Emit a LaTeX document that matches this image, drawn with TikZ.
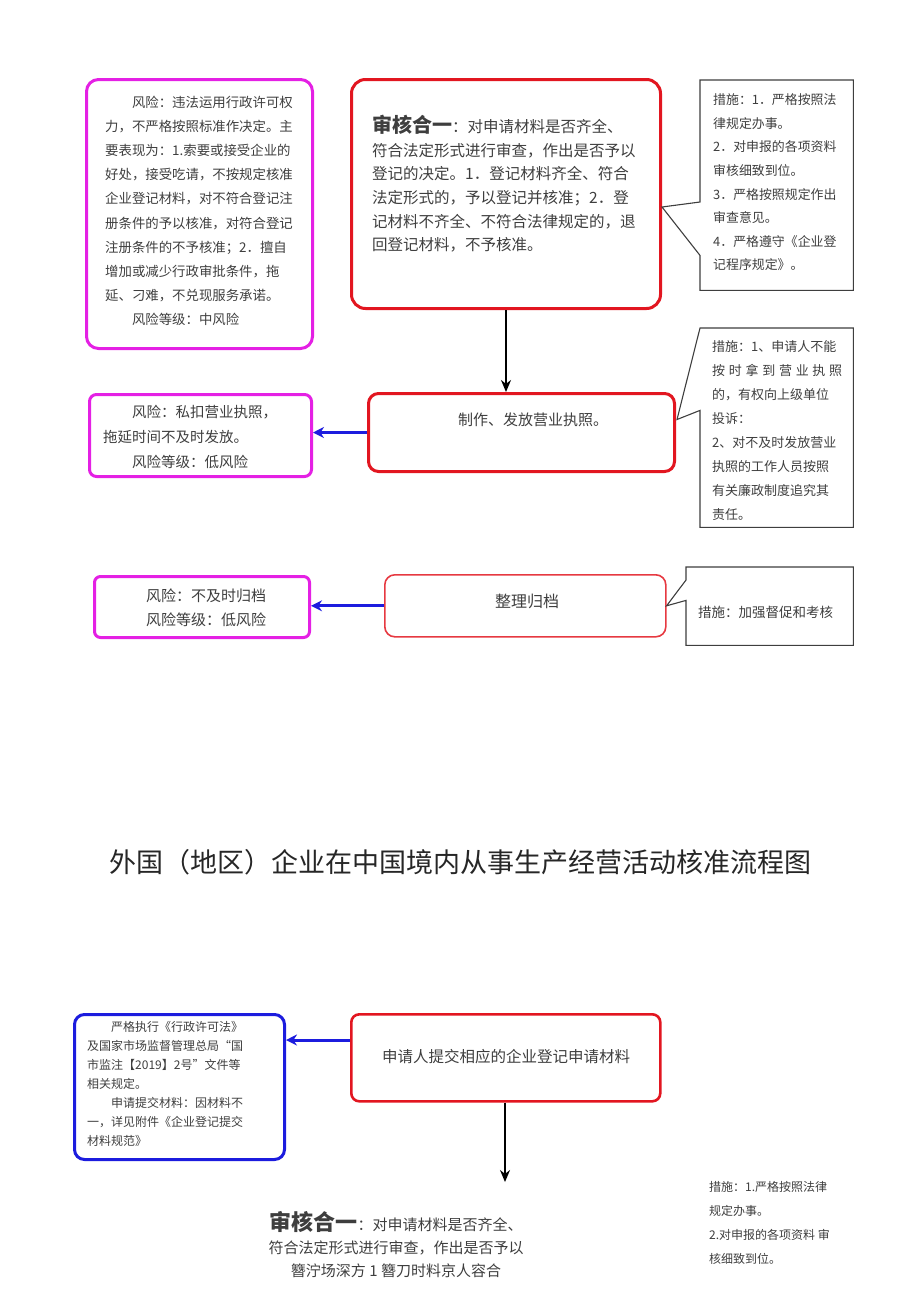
\documentclass[tikz,border=0pt]{standalone}
\usepackage{fontspec}
\setmainfont{Noto Sans CJK SC}
\usetikzlibrary{positioning, arrows.meta}
\definecolor{riskpink}{RGB}{228,32,228}
\definecolor{boxred}{RGB}{226,22,32}
\definecolor{ruleblue}{RGB}{28,28,222}
\definecolor{inkgray}{RGB}{62,62,62}
\newcommand{\fsz}[2]{\fontsize{#1}{#2}\selectfont}

\begin{document}
\begin{tikzpicture}[x=1pt, y=-1pt,
  flow/.style={-{Stealth[length=12pt, width=10pt]}, line width=1.3pt},
  back/.style={-{Stealth[length=11pt, width=11pt]}, ruleblue, line width=3pt},
  riskbox/.style={draw=riskpink, line width=3pt, rounded corners=12pt, anchor=north west, inner sep=0},
  stagebox/.style={draw=boxred, line width=3pt, rounded corners=14pt, anchor=north west, inner sep=0},
  rulebox/.style={draw=ruleblue, line width=3pt, rounded corners=10pt, anchor=north west, inner sep=0},
  frame/.style={anchor=north west, inner sep=0},
  txt/.style={text=inkgray, inner sep=0, anchor=north west, align=left},
  note/.style={draw=inkgray, line width=1.1pt}]
  \useasboundingbox (0,0) rectangle (920,1301);
  \node[riskbox, minimum width=226pt, minimum height=269pt] (risk1) at (85,78) {};
  \node[stagebox, minimum width=309pt, minimum height=229pt] (review) at (350,78) {};
  \node[frame, minimum width=153pt, minimum height=210pt] (measure1) at (700,80) {};
  \node[txt, font=\fsz{13.4}{24.1}] (risk1txt) at (105,96) {\hspace*{2em}风险：违法运用行政许可权\\力，不严格按照标准作决定。主\\要表现为：1.索要或接受企业的\\好处，接受吃请，不按规定核准\\企业登记材料，对不符合登记注\\册条件的予以核准，对符合登记\\注册条件的不予核准；2．擅自\\增加或减少行政审批条件，拖\\延、刁难，不兑现服务承诺。\\\hspace*{2em}风险等级：中风险};
  \node[txt, font=\fsz{15.5}{23.6}] (reviewtxt) at (372,115) {{\fontsize{20}{20}\selectfont\bfseries 审核合一}：对申请材料是否齐全、\\符合法定形式进行审查，作出是否予以\\登记的决定。1．登记材料齐全、符合\\法定形式的，予以登记并核准；2．登\\记材料不齐全、不符合法律规定的，退\\回登记材料，不予核准。};
  \node[txt, font=\fsz{12.9}{23.6}] (measure1txt) at (713,93.5) {措施：1．严格按照法\\律规定办事。\\2．对申报的各项资料\\审核细致到位。\\3．严格按照规定作出\\审查意见。\\4．严格遵守《企业登\\记程序规定》。};
  \coordinate (tip1) at ([yshift=-13pt]review.east);
  \draw[note] ([yshift=-122pt]measure1.north west) -- (measure1.north west) -- (measure1.north east) -- (measure1.south east) -- (measure1.south west) -- ([yshift=35pt]measure1.south west) -- (tip1) -- cycle;

  \node[stagebox, rounded corners=10pt, minimum width=306pt, minimum height=78pt] (issue) at (367,392) {};
  \node[riskbox, rounded corners=7pt, minimum width=222pt, minimum height=82pt] (risk2) at (88,393) {};
  \node[frame, minimum width=153pt, minimum height=199pt] (measure2) at (700,328) {};
  \node[txt, anchor=center, font=\fsz{15}{15}] (issuetxt) at (533,420) {制作、发放营业执照。};
  \node[txt, font=\fsz{14.5}{25}] (risk2txt) at (103,405.5) {\hspace*{2em}风险：私扣营业执照，\\拖延时间不及时发放。\\\hspace*{2em}风险等级：低风险};
  \node[txt, font=\fsz{13}{24}] (measure2txt) at (712,340.5) {措施：1、申请人不能\\\makebox[130pt][s]{按\hfil 时\hfil 拿\hfil 到\hfil 营\hfil 业\hfil 执\hfil 照}\\的，有权向上级单位\\投诉：\\2、对不及时发放营业\\执照的工作人员按照\\有关廉政制度追究其\\责任。};
  \coordinate (tip2) at ([xshift=1pt, yshift=13pt]issue.east);
  \draw[note] (measure2.north west) -- (measure2.north east) -- (measure2.south east) -- (measure2.south west) -- ([yshift=117pt]measure2.south west) -- (tip2) -- cycle;

  \node[stagebox, draw=boxred!85!white, line width=1.6pt, rounded corners=10pt, minimum width=281pt, minimum height=62pt] (archive) at (384,574) {};
  \node[riskbox, rounded corners=6pt, minimum width=215pt, minimum height=61pt] (risk3) at (93,575) {};
  \node[frame, minimum width=167pt, minimum height=78pt] (measure3) at (686,567) {};
  \node[txt, anchor=center, font=\fsz{16}{16}] (archivetxt) at (527,601) {整理归档};
  \node[txt, anchor=north, align=center, font=\fsz{15}{24}] (risk3txt) at (206,588.5) {风险：不及时归档\\风险等级：低风险};
  \node[txt, anchor=west, font=\fsz{13.5}{13.5}] (measure3txt) at (698,612) {措施：加强督促和考核};
  \draw[note] ([yshift=-13pt]measure3.north west) -- (measure3.north west) -- (measure3.north east) -- (measure3.south east) -- (measure3.south west) -- ([yshift=45pt]measure3.south west) -- (archive.east) -- cycle;

  \draw[flow] (review.south) -- (review.south |- issue.north);
  \foreach \from/\to in {issue/risk2, archive/risk3}
    \draw[back] (\from.west) -- (\from.west -| \to.east);

  \node[text=black!85, font=\fsz{27}{27}] (title) at (460,862) {外国（地区）企业在中国境内从事生产经营活动核准流程图};

  \node[stagebox, rounded corners=8pt, line width=2.6pt, minimum width=309pt, minimum height=87pt] (apply) at (350,1013) {};
  \node[rulebox, minimum width=210pt, minimum height=145pt] (rule) at (73,1013) {};
  \node[txt, anchor=center, font=\fsz{15.5}{15.5}] (applytxt) at (506,1057) {申请人提交相应的企业登记申请材料};
  \node[txt, font=\fsz{12}{19}] (ruletxt) at (87,1021) {\hspace*{2em}严格执行《行政许可法》\\及国家市场监督管理总局“国\\市监注【2019】2号”文件等\\相关规定。\\\hspace*{2em}申请提交材料：因材料不\\一，详见附件《企业登记提交\\材料规范》};
  \draw[back] ([yshift=-27pt]apply.north west) -- ([yshift=-27pt]apply.north west -| rule.east);
  \coordinate (next) at (505,1182);
  \draw[flow] (apply.south -| next) -- (next);
  \node[txt, anchor=north, align=center, font=\fsz{15}{23}] (review2txt) at (396,1211.5) {{\fontsize{22}{22}\selectfont\bfseries 审核合一}：对申请材料是否齐全、\\符合法定形式进行审查，作出是否予以\\簪泞场深方 1 簪刀时料京人容合};
  \node[txt, font=\fsz{12}{24}] (measure4txt) at (709,1181) {措施：1.严格按照法律\\规定办事。\\2.对申报的各项资料 审\\核细致到位。};
\end{tikzpicture}
\end{document}
